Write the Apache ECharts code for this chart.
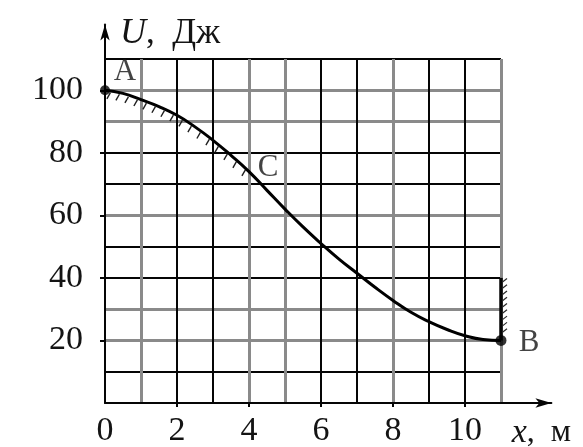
<!DOCTYPE html>
<html>
<head>
<meta charset="utf-8">
<title>U(x)</title>
<script src="https://cdn.jsdelivr.net/npm/echarts@6/dist/echarts.min.js"></script>
<style>
  html, body { margin: 0; padding: 0; background: #ffffff; }
  #chart { width: 583px; height: 447px; }
</style>
</head>
<body>
<div id="chart"></div>
<script>
// Potential energy U (J) along the track, x in metres
const positionX = [0, 0.5, 1, 1.5, 2, 2.5, 3, 3.5, 4, 4.5, 5, 5.5, 6, 6.5, 7, 7.5, 8, 8.5, 9, 9.5, 10, 10.5, 11];
const energyU   = [100, 99, 97, 94.8, 92, 88.3, 84, 79.2, 74, 68, 62, 56.3, 51, 46, 41.5, 37, 32.8, 29, 26, 23.5, 21.5, 20.3, 20];

// Named points on the curve
const pointNames = ['A', 'C', 'B'];
const pointX     = [0, 4, 11];
const pointU     = [100, 74, 20];

// Hatched part of the track and the wall at the end
const hatchToX  = 4;
const wallX     = 11;
const wallFromU = 20;
const wallToU   = 40;

// Tick labels
const xTickLabels = [0, 2, 4, 6, 8, 10];
const yTickLabels = [20, 40, 60, 80, 100];

// Grid extents and line tones ('k' dark, 'g' light)
const xMax = 11, yMax = 110;
const xArrowMax = 12.4, yArrowMax = 121;
const xLineTone = ['k','g','k','k','g','g','k','k','g','k','k','g'];
const yLineTone = ['k','k','g','g','k','k','g','k','k','g','g','k'];

const DARK = '#050505';
const LIGHT = '#8a8a8a';
const TEXT = '#141414';
const SERIF = '"Liberation Serif", "Times New Roman", serif';

const plot = { left: 105, bottom: 44, width: 396, height: 344 };

const toneColors = (tones, want, color) => tones.map(t => t === want ? color : 'rgba(0,0,0,0)');

function gridAxis(extra) {
  return Object.assign({
    type: 'value', gridIndex: 0,
    axisLine: { show: false }, axisTick: { show: false }, axisLabel: { show: false }
  }, extra);
}

const curveData = positionX.map((x, i) => [x, energyU[i]]);
const hatchSegments = [];
for (let i = 0; i + 1 < positionX.length && positionX[i + 1] <= hatchToX; i++) {
  hatchSegments.push([positionX[i], energyU[i], positionX[i + 1], energyU[i + 1]]);
}

function renderCurveHatch(params, api) {
  const p0 = api.coord([api.value(0), api.value(1)]);
  const p1 = api.coord([api.value(2), api.value(3)]);
  const dirX = -0.5, dirY = 0.87, L = 7;
  const children = [0.3, 0.8].map(t => {
    const sx = p0[0] + (p1[0] - p0[0]) * t;
    const sy = p0[1] + (p1[1] - p0[1]) * t;
    return {
      type: 'line',
      shape: { x1: sx, y1: sy + 1.5, x2: sx + dirX * L, y2: sy + 1.5 + dirY * L },
      style: { stroke: '#1e1e1e', lineWidth: 1.4 }
    };
  });
  return { type: 'group', children };
}

function renderWall(params, api) {
  const top = api.coord([api.value(0), api.value(2)]);
  const bot = api.coord([api.value(0), api.value(1)]);
  const children = [{
    type: 'line',
    shape: { x1: top[0], y1: top[1], x2: bot[0], y2: bot[1] },
    style: { stroke: DARK, lineWidth: 3.5 }
  }];
  const n = Math.round((bot[1] - top[1]) / 7);
  for (let k = 0; k < n; k++) {
    const y = top[1] + 4 + k * (bot[1] - top[1] - 6) / n;
    children.push({
      type: 'line',
      shape: { x1: top[0] + 1.5, y1: y, x2: top[0] + 6, y2: y - 3.5 },
      style: { stroke: '#2a2a2a', lineWidth: 1.2 }
    });
  }
  return { type: 'group', children };
}

const chart = echarts.init(document.getElementById('chart'), null, { renderer: 'canvas' });

chart.setOption({
  backgroundColor: '#ffffff',
  animation: false,
  grid: [
    { left: plot.left, bottom: plot.bottom, width: plot.width, height: plot.height,
      containLabel: false, outerBoundsMode: 'none' },
    { left: plot.left, bottom: plot.bottom,
      width: plot.width * xArrowMax / xMax, height: plot.height * yArrowMax / yMax,
      containLabel: false, outerBoundsMode: 'none' }
  ],
  xAxis: [
    gridAxis({ min: 0, max: xMax, interval: 1, position: 'bottom',
      splitLine: { show: true, lineStyle: { color: toneColors(xLineTone, 'k', DARK), width: 2 } } }),
    gridAxis({ min: 0, max: xMax, interval: 1, position: 'top',
      splitLine: { show: true, lineStyle: { color: toneColors(xLineTone, 'g', LIGHT), width: 3 } } }),
    {
      type: 'value', gridIndex: 1, min: 0, max: xArrowMax, interval: 1,
      name: '{i|x}{n|,  м}', nameLocation: 'end', nameGap: -10,
      nameTextStyle: {
        align: 'center', verticalAlign: 'top', padding: [13, 0, 0, 0],
        rich: {
          i: { fontFamily: SERIF, fontStyle: 'italic', fontSize: 34, color: TEXT },
          n: { fontFamily: SERIF, fontSize: 32, color: TEXT }
        }
      },
      axisLine: { show: true, symbol: ['none', 'arrow'], symbolSize: [7, 16],
        lineStyle: { color: DARK, width: 2 } },
      axisTick: { show: true, inside: false, length: 4, customValues: [2, 4, 6, 8, 10],
        lineStyle: { color: DARK, width: 2 } },
      axisLabel: { show: true, customValues: xTickLabels, margin: 11,
        fontFamily: SERIF, fontSize: 34, color: TEXT },
      splitLine: { show: false }
    }
  ],
  yAxis: [
    gridAxis({ min: 0, max: yMax, interval: 10, position: 'left',
      splitLine: { show: true, lineStyle: { color: toneColors(yLineTone, 'k', DARK), width: 2 } } }),
    gridAxis({ min: 0, max: yMax, interval: 10, position: 'right',
      splitLine: { show: true, lineStyle: { color: toneColors(yLineTone, 'g', LIGHT), width: 3 } } }),
    {
      type: 'value', gridIndex: 1, min: 0, max: yArrowMax, interval: 10,
      name: '{i|U}{n|,  Дж}', nameLocation: 'end', nameGap: -9,
      nameTextStyle: {
        align: 'left', verticalAlign: 'middle', padding: [0, 0, 0, 15],
        rich: {
          i: { fontFamily: SERIF, fontStyle: 'italic', fontSize: 36, color: TEXT },
          n: { fontFamily: SERIF, fontSize: 35, color: TEXT }
        }
      },
      axisLine: { show: true, symbol: ['none', 'arrow'], symbolSize: [7, 16],
        lineStyle: { color: DARK, width: 2 } },
      axisTick: { show: true, inside: false, length: 5, customValues: yTickLabels,
        lineStyle: { color: DARK, width: 2 } },
      axisLabel: { show: true, customValues: yTickLabels, margin: 22,
        fontFamily: SERIF, fontSize: 34, color: TEXT },
      splitLine: { show: false }
    }
  ],
  series: [
    {
      type: 'line', xAxisIndex: 0, yAxisIndex: 0,
      data: curveData, smooth: 0.5, showSymbol: false,
      lineStyle: { color: '#000', width: 3 }, z: 5
    },
    {
      type: 'custom', xAxisIndex: 0, yAxisIndex: 0,
      data: hatchSegments, renderItem: renderCurveHatch, z: 4
    },
    {
      type: 'custom', xAxisIndex: 0, yAxisIndex: 0,
      data: [[wallX, wallFromU, wallToU]], renderItem: renderWall, z: 4
    },
    {
      type: 'scatter', xAxisIndex: 0, yAxisIndex: 0,
      data: pointNames.map((n, i) => ({
        name: n, value: [pointX[i], pointU[i]],
        symbolSize: n === 'C' ? 0 : (n === 'B' ? 11 : 10),
        label: {
          offset: n === 'A' ? [20, -18] : (n === 'C' ? [19, -4] : [28, 2])
        }
      })),
      itemStyle: { color: '#000' },
      label: {
        show: true, position: 'inside', formatter: p => p.name,
        fontFamily: SERIF, fontSize: 31, color: TEXT
      },
      z: 6
    }
  ]
});
</script>
</body>
</html>
